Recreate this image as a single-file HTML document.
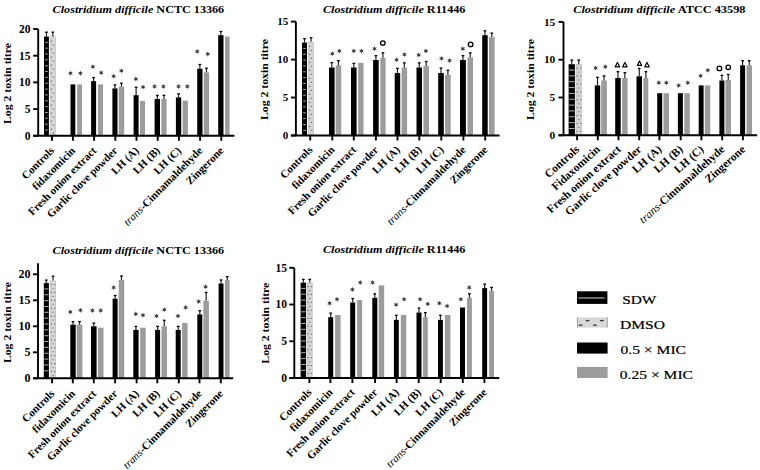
<!DOCTYPE html>
<html><head><meta charset="utf-8"><title>Clostridium difficile toxin titres</title><style>
html,body{margin:0;padding:0;background:#fff;width:760px;height:470px;overflow:hidden}
svg{display:block}
text{font-family:"Liberation Serif", serif;fill:#000}
.title{font-size:11px;font-weight:bold}
.ylab{font-size:10.5px;font-weight:bold;text-anchor:middle}
.tick{font-size:11px;font-weight:bold;text-anchor:end}
.xl{font-weight:bold;text-anchor:end}
.tr{font-style:italic;font-weight:normal}
.ast{font-size:9px;text-anchor:middle;font-family:"Liberation Sans",sans-serif;fill:#222}
.oo{font-size:8px;text-anchor:middle;font-weight:bold;font-family:"Liberation Sans",sans-serif}
.dd{font-size:7px;text-anchor:middle;font-weight:bold;font-family:"Liberation Sans",sans-serif}
.leg{font-size:13.5px;stroke:#000;stroke-width:0.2px}
</style></head>
<body><svg width="760" height="470" viewBox="0 0 760 470">
<text x="52.6" y="13.3" class="title" textLength="171.6" lengthAdjust="spacingAndGlyphs"><tspan font-style="italic">Clostridium difficile</tspan> NCTC 13366</text>
<text transform="translate(11,83.5) rotate(-90)" class="ylab" textLength="81" lengthAdjust="spacingAndGlyphs">Log 2 toxin titre</text>
<rect x="44" y="36.5" width="4.9" height="99.3" fill="#000"/><rect x="45.2" y="41.8" width="2.5" height="1" fill="#b0b0b0"/><rect x="45.2" y="47.65" width="2.5" height="1" fill="#b0b0b0"/><rect x="45.2" y="53.5" width="2.5" height="1" fill="#b0b0b0"/><rect x="45.2" y="59.35" width="2.5" height="1" fill="#b0b0b0"/><rect x="45.2" y="65.2" width="2.5" height="1" fill="#b0b0b0"/><rect x="45.2" y="71.05" width="2.5" height="1" fill="#b0b0b0"/><rect x="45.2" y="76.9" width="2.5" height="1" fill="#b0b0b0"/><rect x="45.2" y="82.75" width="2.5" height="1" fill="#b0b0b0"/><rect x="45.2" y="88.6" width="2.5" height="1" fill="#b0b0b0"/><rect x="45.2" y="94.45" width="2.5" height="1" fill="#b0b0b0"/><rect x="45.2" y="100.3" width="2.5" height="1" fill="#b0b0b0"/><rect x="45.2" y="106.15" width="2.5" height="1" fill="#b0b0b0"/><rect x="45.2" y="112" width="2.5" height="1" fill="#b0b0b0"/><rect x="45.2" y="117.85" width="2.5" height="1" fill="#b0b0b0"/><rect x="45.2" y="123.7" width="2.5" height="1" fill="#b0b0b0"/><rect x="45.2" y="129.55" width="2.5" height="1" fill="#b0b0b0"/>
<rect x="50.2" y="36.8" width="5.2" height="99" fill="#d6d6d6" stroke="#b4b4b4" stroke-width="0.6"/><rect x="50.81" y="40.5" width="1.3" height="1.1" fill="#666"/><rect x="52.66" y="44.5" width="1.3" height="1.1" fill="#666"/><rect x="50.81" y="48.5" width="1.3" height="1.1" fill="#666"/><rect x="52.66" y="52.5" width="1.3" height="1.1" fill="#666"/><rect x="50.81" y="56.5" width="1.3" height="1.1" fill="#666"/><rect x="52.66" y="60.5" width="1.3" height="1.1" fill="#666"/><rect x="50.81" y="64.5" width="1.3" height="1.1" fill="#666"/><rect x="52.66" y="68.5" width="1.3" height="1.1" fill="#666"/><rect x="50.81" y="72.5" width="1.3" height="1.1" fill="#666"/><rect x="52.66" y="76.5" width="1.3" height="1.1" fill="#666"/><rect x="50.81" y="80.5" width="1.3" height="1.1" fill="#666"/><rect x="52.66" y="84.5" width="1.3" height="1.1" fill="#666"/><rect x="50.81" y="88.5" width="1.3" height="1.1" fill="#666"/><rect x="52.66" y="92.5" width="1.3" height="1.1" fill="#666"/><rect x="50.81" y="96.5" width="1.3" height="1.1" fill="#666"/><rect x="52.66" y="100.5" width="1.3" height="1.1" fill="#666"/><rect x="50.81" y="104.5" width="1.3" height="1.1" fill="#666"/><rect x="52.66" y="108.5" width="1.3" height="1.1" fill="#666"/><rect x="50.81" y="112.5" width="1.3" height="1.1" fill="#666"/><rect x="52.66" y="116.5" width="1.3" height="1.1" fill="#666"/><rect x="50.81" y="120.5" width="1.3" height="1.1" fill="#666"/><rect x="52.66" y="124.5" width="1.3" height="1.1" fill="#666"/><rect x="50.81" y="128.5" width="1.3" height="1.1" fill="#666"/><rect x="52.66" y="132.5" width="1.3" height="1.1" fill="#666"/>
<line x1="46.45" y1="32.1" x2="46.45" y2="36.5" stroke="#222" stroke-width="1.2"/><line x1="45.1" y1="32.2" x2="47.8" y2="32.2" stroke="#000" stroke-width="1.3"/>
<line x1="52.8" y1="32.1" x2="52.8" y2="36.5" stroke="#222" stroke-width="1.2"/><line x1="51.45" y1="32.2" x2="54.15" y2="32.2" stroke="#000" stroke-width="1.3"/>
<rect x="70.5" y="84.4" width="4.8" height="51.4" fill="#000"/>
<rect x="77.2" y="84.4" width="4.8" height="51.4" fill="#9c9c9c"/>


<rect x="91.1" y="81.1" width="5" height="54.7" fill="#000"/>
<rect x="98" y="84.4" width="5" height="51.4" fill="#9c9c9c"/>
<line x1="93.6" y1="77.5" x2="93.6" y2="81.1" stroke="#222" stroke-width="1.2"/><line x1="92.25" y1="77.6" x2="94.95" y2="77.6" stroke="#000" stroke-width="1.3"/>

<rect x="112.4" y="88.4" width="5.1" height="47.4" fill="#000"/>
<rect x="118.7" y="86.6" width="5.5" height="49.2" fill="#9c9c9c"/>
<line x1="114.95" y1="84.8" x2="114.95" y2="88.4" stroke="#222" stroke-width="1.2"/><line x1="113.6" y1="84.9" x2="116.3" y2="84.9" stroke="#000" stroke-width="1.3"/>
<line x1="121.45" y1="83.1" x2="121.45" y2="86.6" stroke="#222" stroke-width="1.2"/><line x1="120.1" y1="83.2" x2="122.8" y2="83.2" stroke="#000" stroke-width="1.3"/>
<rect x="133.6" y="95.2" width="5" height="40.6" fill="#000"/>
<rect x="140" y="101" width="5" height="34.8" fill="#9c9c9c"/>
<line x1="136.1" y1="87.1" x2="136.1" y2="95.2" stroke="#222" stroke-width="1.2"/><line x1="134.75" y1="87.2" x2="137.45" y2="87.2" stroke="#000" stroke-width="1.3"/>

<rect x="154.6" y="99" width="5.4" height="36.8" fill="#000"/>
<rect x="161.3" y="99" width="5.3" height="36.8" fill="#9c9c9c"/>
<line x1="157.3" y1="95.3" x2="157.3" y2="99" stroke="#222" stroke-width="1.2"/><line x1="155.95" y1="95.4" x2="158.65" y2="95.4" stroke="#000" stroke-width="1.3"/>
<line x1="163.95" y1="95.3" x2="163.95" y2="99" stroke="#222" stroke-width="1.2"/><line x1="162.6" y1="95.4" x2="165.3" y2="95.4" stroke="#000" stroke-width="1.3"/>
<rect x="175.9" y="97.4" width="5.3" height="38.4" fill="#000"/>
<rect x="182.6" y="100.6" width="5.3" height="35.2" fill="#9c9c9c"/>
<line x1="178.55" y1="93.7" x2="178.55" y2="97.4" stroke="#222" stroke-width="1.2"/><line x1="177.2" y1="93.8" x2="179.9" y2="93.8" stroke="#000" stroke-width="1.3"/>

<rect x="197.2" y="68.7" width="5.3" height="67.1" fill="#000"/>
<rect x="203.8" y="72.4" width="5.3" height="63.4" fill="#9c9c9c"/>
<line x1="199.85" y1="64.4" x2="199.85" y2="68.7" stroke="#222" stroke-width="1.2"/><line x1="198.5" y1="64.5" x2="201.2" y2="64.5" stroke="#000" stroke-width="1.3"/>
<line x1="206.45" y1="68.1" x2="206.45" y2="72.4" stroke="#222" stroke-width="1.2"/><line x1="205.1" y1="68.2" x2="207.8" y2="68.2" stroke="#000" stroke-width="1.3"/>
<rect x="218.2" y="35.2" width="5.3" height="100.6" fill="#000"/>
<rect x="225.1" y="36.5" width="4.5" height="99.3" fill="#9c9c9c"/>
<line x1="220.85" y1="31.4" x2="220.85" y2="35.2" stroke="#222" stroke-width="1.2"/><line x1="219.5" y1="31.5" x2="222.2" y2="31.5" stroke="#000" stroke-width="1.3"/>

<line x1="38.2" y1="29" x2="38.2" y2="135.8" stroke="#000" stroke-width="1.9"/>
<line x1="33.2" y1="135.8" x2="234.4" y2="135.8" stroke="#000" stroke-width="1.9"/>
<line x1="33.2" y1="135.8" x2="38.2" y2="135.8" stroke="#000" stroke-width="1.9"/>
<text x="30.6" y="139.65" class="tick" style="font-size:11.5px">0</text>
<line x1="33.2" y1="109.1" x2="38.2" y2="109.1" stroke="#000" stroke-width="1.9"/>
<text x="30.6" y="112.95" class="tick" style="font-size:11.5px">5</text>
<line x1="33.2" y1="82.4" x2="38.2" y2="82.4" stroke="#000" stroke-width="1.9"/>
<text x="30.6" y="86.25" class="tick" style="font-size:11.5px">10</text>
<line x1="33.2" y1="55.7" x2="38.2" y2="55.7" stroke="#000" stroke-width="1.9"/>
<text x="30.6" y="59.55" class="tick" style="font-size:11.5px">15</text>
<line x1="33.2" y1="29" x2="38.2" y2="29" stroke="#000" stroke-width="1.9"/>
<text x="30.6" y="32.85" class="tick" style="font-size:11.5px">20</text>
<line x1="51.9" y1="135.8" x2="51.9" y2="140.8" stroke="#000" stroke-width="1.9"/>
<line x1="72.9" y1="135.8" x2="72.9" y2="140.8" stroke="#000" stroke-width="1.9"/>
<line x1="94.1" y1="135.8" x2="94.1" y2="140.8" stroke="#000" stroke-width="1.9"/>
<line x1="115.3" y1="135.8" x2="115.3" y2="140.8" stroke="#000" stroke-width="1.9"/>
<line x1="136.5" y1="135.8" x2="136.5" y2="140.8" stroke="#000" stroke-width="1.9"/>
<line x1="157.7" y1="135.8" x2="157.7" y2="140.8" stroke="#000" stroke-width="1.9"/>
<line x1="178.9" y1="135.8" x2="178.9" y2="140.8" stroke="#000" stroke-width="1.9"/>
<line x1="200.1" y1="135.8" x2="200.1" y2="140.8" stroke="#000" stroke-width="1.9"/>
<line x1="221.3" y1="135.8" x2="221.3" y2="140.8" stroke="#000" stroke-width="1.9"/>
<text transform="translate(54.9,151.3) rotate(-45)" class="xl" style="font-size:11px">Controls</text>
<text transform="translate(75.9,151.3) rotate(-45)" class="xl" style="font-size:11px">fidaxomicin</text>
<text transform="translate(97.1,151.3) rotate(-45)" class="xl" style="font-size:11px">Fresh onion extract</text>
<text transform="translate(118.3,151.3) rotate(-45)" class="xl" style="font-size:11px">Garlic clove powder</text>
<text transform="translate(139.5,151.3) rotate(-45)" class="xl" style="font-size:11px">LH (A)</text>
<text transform="translate(160.7,151.3) rotate(-45)" class="xl" style="font-size:11px">LH (B)</text>
<text transform="translate(181.9,151.3) rotate(-45)" class="xl" style="font-size:11px">LH (C)</text>
<text transform="translate(203.1,151.3) rotate(-45)" class="xl" style="font-size:11px"><tspan class="tr">trans</tspan>-Cinnamaldehyde</text>
<text transform="translate(224.3,151.3) rotate(-45)" class="xl" style="font-size:11px">Zingerone</text>
<polygon points="70.5,70.45 71.08,72.2 72.88,71.83 71.65,73.2 72.88,74.58 71.08,74.2 70.5,75.95 69.92,74.2 68.12,74.58 69.35,73.2 68.12,71.83 69.92,72.2" fill="#383838"/>
<polygon points="80.4,70.45 80.98,72.2 82.78,71.83 81.55,73.2 82.78,74.58 80.98,74.2 80.4,75.95 79.83,74.2 78.02,74.58 79.25,73.2 78.02,71.83 79.83,72.2" fill="#383838"/>
<polygon points="92.9,63.95 93.48,65.7 95.28,65.33 94.05,66.7 95.28,68.08 93.48,67.7 92.9,69.45 92.33,67.7 90.52,68.08 91.75,66.7 90.52,65.33 92.33,65.7" fill="#383838"/>
<polygon points="101.2,69.95 101.78,71.7 103.58,71.33 102.35,72.7 103.58,74.08 101.78,73.7 101.2,75.45 100.62,73.7 98.82,74.08 100.05,72.7 98.82,71.33 100.62,71.7" fill="#383838"/>
<polygon points="113.7,73.55 114.28,75.3 116.08,74.92 114.85,76.3 116.08,77.67 114.28,77.3 113.7,79.05 113.12,77.3 111.32,77.67 112.55,76.3 111.32,74.92 113.12,75.3" fill="#383838"/>
<polygon points="121.4,68.05 121.98,69.8 123.78,69.42 122.55,70.8 123.78,72.17 121.98,71.8 121.4,73.55 120.83,71.8 119.02,72.17 120.25,70.8 119.02,69.42 120.83,69.8" fill="#383838"/>
<polygon points="135.9,76.25 136.47,78 138.28,77.62 137.05,79 138.28,80.38 136.47,80 135.9,81.75 135.33,80 133.52,80.38 134.75,79 133.52,77.62 135.33,78" fill="#383838"/>
<polygon points="143.1,84.35 143.67,86.1 145.48,85.72 144.25,87.1 145.48,88.47 143.67,88.1 143.1,89.85 142.53,88.1 140.72,88.47 141.95,87.1 140.72,85.72 142.53,86.1" fill="#383838"/>
<polygon points="154.6,83.75 155.17,85.5 156.98,85.12 155.75,86.5 156.98,87.88 155.17,87.5 154.6,89.25 154.03,87.5 152.22,87.88 153.45,86.5 152.22,85.12 154.03,85.5" fill="#383838"/>
<polygon points="163.4,83.75 163.97,85.5 165.78,85.12 164.55,86.5 165.78,87.88 163.97,87.5 163.4,89.25 162.83,87.5 161.02,87.88 162.25,86.5 161.02,85.12 162.83,85.5" fill="#383838"/>
<polygon points="178.6,83.75 179.17,85.5 180.98,85.12 179.75,86.5 180.98,87.88 179.17,87.5 178.6,89.25 178.03,87.5 176.22,87.88 177.45,86.5 176.22,85.12 178.03,85.5" fill="#383838"/>
<polygon points="187.3,83.75 187.88,85.5 189.68,85.12 188.45,86.5 189.68,87.88 187.88,87.5 187.3,89.25 186.73,87.5 184.92,87.88 186.15,86.5 184.92,85.12 186.73,85.5" fill="#383838"/>
<polygon points="197.2,48.65 197.77,50.4 199.58,50.02 198.35,51.4 199.58,52.77 197.77,52.4 197.2,54.15 196.62,52.4 194.82,52.77 196.05,51.4 194.82,50.02 196.62,50.4" fill="#383838"/>
<polygon points="207.8,51.25 208.38,53 210.18,52.62 208.95,54 210.18,55.38 208.38,55 207.8,56.75 207.23,55 205.42,55.38 206.65,54 205.42,52.62 207.23,53" fill="#383838"/>
<text x="323" y="13.3" class="title" textLength="142.4" lengthAdjust="spacingAndGlyphs"><tspan font-style="italic">Clostridium difficile</tspan> R11446</text>
<text transform="translate(268.4,79.5) rotate(-90)" class="ylab" textLength="81" lengthAdjust="spacingAndGlyphs">Log 2 toxin titre</text>
<rect x="302" y="42.6" width="5" height="92.9" fill="#000"/><rect x="303.2" y="47.9" width="2.6" height="1" fill="#b0b0b0"/><rect x="303.2" y="53.75" width="2.6" height="1" fill="#b0b0b0"/><rect x="303.2" y="59.6" width="2.6" height="1" fill="#b0b0b0"/><rect x="303.2" y="65.45" width="2.6" height="1" fill="#b0b0b0"/><rect x="303.2" y="71.3" width="2.6" height="1" fill="#b0b0b0"/><rect x="303.2" y="77.15" width="2.6" height="1" fill="#b0b0b0"/><rect x="303.2" y="83" width="2.6" height="1" fill="#b0b0b0"/><rect x="303.2" y="88.85" width="2.6" height="1" fill="#b0b0b0"/><rect x="303.2" y="94.7" width="2.6" height="1" fill="#b0b0b0"/><rect x="303.2" y="100.55" width="2.6" height="1" fill="#b0b0b0"/><rect x="303.2" y="106.4" width="2.6" height="1" fill="#b0b0b0"/><rect x="303.2" y="112.25" width="2.6" height="1" fill="#b0b0b0"/><rect x="303.2" y="118.1" width="2.6" height="1" fill="#b0b0b0"/><rect x="303.2" y="123.95" width="2.6" height="1" fill="#b0b0b0"/><rect x="303.2" y="129.8" width="2.6" height="1" fill="#b0b0b0"/>
<rect x="308.6" y="42.1" width="4.9" height="93.4" fill="#d6d6d6" stroke="#b4b4b4" stroke-width="0.6"/><rect x="309.13" y="45.8" width="1.3" height="1.1" fill="#666"/><rect x="310.89" y="49.8" width="1.3" height="1.1" fill="#666"/><rect x="309.13" y="53.8" width="1.3" height="1.1" fill="#666"/><rect x="310.89" y="57.8" width="1.3" height="1.1" fill="#666"/><rect x="309.13" y="61.8" width="1.3" height="1.1" fill="#666"/><rect x="310.89" y="65.8" width="1.3" height="1.1" fill="#666"/><rect x="309.13" y="69.8" width="1.3" height="1.1" fill="#666"/><rect x="310.89" y="73.8" width="1.3" height="1.1" fill="#666"/><rect x="309.13" y="77.8" width="1.3" height="1.1" fill="#666"/><rect x="310.89" y="81.8" width="1.3" height="1.1" fill="#666"/><rect x="309.13" y="85.8" width="1.3" height="1.1" fill="#666"/><rect x="310.89" y="89.8" width="1.3" height="1.1" fill="#666"/><rect x="309.13" y="93.8" width="1.3" height="1.1" fill="#666"/><rect x="310.89" y="97.8" width="1.3" height="1.1" fill="#666"/><rect x="309.13" y="101.8" width="1.3" height="1.1" fill="#666"/><rect x="310.89" y="105.8" width="1.3" height="1.1" fill="#666"/><rect x="309.13" y="109.8" width="1.3" height="1.1" fill="#666"/><rect x="310.89" y="113.8" width="1.3" height="1.1" fill="#666"/><rect x="309.13" y="117.8" width="1.3" height="1.1" fill="#666"/><rect x="310.89" y="121.8" width="1.3" height="1.1" fill="#666"/><rect x="309.13" y="125.8" width="1.3" height="1.1" fill="#666"/><rect x="310.89" y="129.8" width="1.3" height="1.1" fill="#666"/>
<line x1="304.5" y1="38.5" x2="304.5" y2="42.6" stroke="#222" stroke-width="1.2"/><line x1="303.15" y1="38.6" x2="305.85" y2="38.6" stroke="#000" stroke-width="1.3"/>
<line x1="311.05" y1="37.7" x2="311.05" y2="41.8" stroke="#222" stroke-width="1.2"/><line x1="309.7" y1="37.8" x2="312.4" y2="37.8" stroke="#000" stroke-width="1.3"/>
<rect x="329" y="67.5" width="5.6" height="68" fill="#000"/>
<rect x="335.7" y="65.3" width="5.5" height="70.2" fill="#9c9c9c"/>
<line x1="331.8" y1="62.5" x2="331.8" y2="67.5" stroke="#222" stroke-width="1.2"/><line x1="330.45" y1="62.6" x2="333.15" y2="62.6" stroke="#000" stroke-width="1.3"/>
<line x1="338.45" y1="60.6" x2="338.45" y2="65.3" stroke="#222" stroke-width="1.2"/><line x1="337.1" y1="60.7" x2="339.8" y2="60.7" stroke="#000" stroke-width="1.3"/>
<rect x="351" y="67.5" width="5.6" height="68" fill="#000"/>
<rect x="358.2" y="62.8" width="5.3" height="72.7" fill="#9c9c9c"/>
<line x1="353.8" y1="63.3" x2="353.8" y2="67.5" stroke="#222" stroke-width="1.2"/><line x1="352.45" y1="63.4" x2="355.15" y2="63.4" stroke="#000" stroke-width="1.3"/>

<rect x="373.1" y="60" width="5.6" height="75.5" fill="#000"/>
<rect x="380.3" y="57.8" width="5.3" height="77.7" fill="#9c9c9c"/>
<line x1="375.9" y1="55.6" x2="375.9" y2="60" stroke="#222" stroke-width="1.2"/><line x1="374.55" y1="55.7" x2="377.25" y2="55.7" stroke="#000" stroke-width="1.3"/>
<line x1="382.95" y1="52.8" x2="382.95" y2="57.8" stroke="#222" stroke-width="1.2"/><line x1="381.6" y1="52.9" x2="384.3" y2="52.9" stroke="#000" stroke-width="1.3"/>
<rect x="394.7" y="73" width="5.5" height="62.5" fill="#000"/>
<rect x="401.6" y="67.5" width="5.5" height="68" fill="#9c9c9c"/>
<line x1="397.45" y1="68.3" x2="397.45" y2="73" stroke="#222" stroke-width="1.2"/><line x1="396.1" y1="68.4" x2="398.8" y2="68.4" stroke="#000" stroke-width="1.3"/>
<line x1="404.35" y1="62.8" x2="404.35" y2="67.5" stroke="#222" stroke-width="1.2"/><line x1="403" y1="62.9" x2="405.7" y2="62.9" stroke="#000" stroke-width="1.3"/>
<rect x="416.5" y="67.5" width="5.5" height="68" fill="#000"/>
<rect x="423.4" y="66.1" width="5.6" height="69.4" fill="#9c9c9c"/>
<line x1="419.25" y1="62.8" x2="419.25" y2="67.5" stroke="#222" stroke-width="1.2"/><line x1="417.9" y1="62.9" x2="420.6" y2="62.9" stroke="#000" stroke-width="1.3"/>
<line x1="426.2" y1="61.4" x2="426.2" y2="66.1" stroke="#222" stroke-width="1.2"/><line x1="424.85" y1="61.5" x2="427.55" y2="61.5" stroke="#000" stroke-width="1.3"/>
<rect x="438.2" y="73" width="5.6" height="62.5" fill="#000"/>
<rect x="445.1" y="75" width="5.6" height="60.5" fill="#9c9c9c"/>
<line x1="441" y1="68" x2="441" y2="73" stroke="#222" stroke-width="1.2"/><line x1="439.65" y1="68.1" x2="442.35" y2="68.1" stroke="#000" stroke-width="1.3"/>
<line x1="447.9" y1="70.2" x2="447.9" y2="75" stroke="#222" stroke-width="1.2"/><line x1="446.55" y1="70.3" x2="449.25" y2="70.3" stroke="#000" stroke-width="1.3"/>
<rect x="460" y="60" width="5.9" height="75.5" fill="#000"/>
<rect x="467.5" y="57.3" width="5.5" height="78.2" fill="#9c9c9c"/>
<line x1="462.95" y1="55.6" x2="462.95" y2="60" stroke="#222" stroke-width="1.2"/><line x1="461.6" y1="55.7" x2="464.3" y2="55.7" stroke="#000" stroke-width="1.3"/>
<line x1="470.25" y1="52.8" x2="470.25" y2="57.3" stroke="#222" stroke-width="1.2"/><line x1="468.9" y1="52.9" x2="471.6" y2="52.9" stroke="#000" stroke-width="1.3"/>
<rect x="482.2" y="35.2" width="5.5" height="100.3" fill="#000"/>
<rect x="489" y="37.1" width="5.6" height="98.4" fill="#9c9c9c"/>
<line x1="484.95" y1="30.7" x2="484.95" y2="35.2" stroke="#222" stroke-width="1.2"/><line x1="483.6" y1="30.8" x2="486.3" y2="30.8" stroke="#000" stroke-width="1.3"/>
<line x1="491.8" y1="33" x2="491.8" y2="37.1" stroke="#222" stroke-width="1.2"/><line x1="490.45" y1="33.1" x2="493.15" y2="33.1" stroke="#000" stroke-width="1.3"/>
<line x1="295.9" y1="21.6" x2="295.9" y2="135.5" stroke="#000" stroke-width="1.9"/>
<line x1="290.9" y1="135.5" x2="499.6" y2="135.5" stroke="#000" stroke-width="1.9"/>
<line x1="290.9" y1="135.5" x2="295.9" y2="135.5" stroke="#000" stroke-width="1.9"/>
<text x="288.3" y="139.19" class="tick" style="font-size:11px">0</text>
<line x1="290.9" y1="97.53" x2="295.9" y2="97.53" stroke="#000" stroke-width="1.9"/>
<text x="288.3" y="101.22" class="tick" style="font-size:11px">5</text>
<line x1="290.9" y1="59.57" x2="295.9" y2="59.57" stroke="#000" stroke-width="1.9"/>
<text x="288.3" y="63.25" class="tick" style="font-size:11px">10</text>
<line x1="290.9" y1="21.6" x2="295.9" y2="21.6" stroke="#000" stroke-width="1.9"/>
<text x="288.3" y="25.28" class="tick" style="font-size:11px">15</text>
<line x1="310.2" y1="135.5" x2="310.2" y2="140.5" stroke="#000" stroke-width="1.9"/>
<line x1="332.3" y1="135.5" x2="332.3" y2="140.5" stroke="#000" stroke-width="1.9"/>
<line x1="353.8" y1="135.5" x2="353.8" y2="140.5" stroke="#000" stroke-width="1.9"/>
<line x1="375.9" y1="135.5" x2="375.9" y2="140.5" stroke="#000" stroke-width="1.9"/>
<line x1="397.5" y1="135.5" x2="397.5" y2="140.5" stroke="#000" stroke-width="1.9"/>
<line x1="419.3" y1="135.5" x2="419.3" y2="140.5" stroke="#000" stroke-width="1.9"/>
<line x1="441.3" y1="135.5" x2="441.3" y2="140.5" stroke="#000" stroke-width="1.9"/>
<line x1="463.4" y1="135.5" x2="463.4" y2="140.5" stroke="#000" stroke-width="1.9"/>
<line x1="485.2" y1="135.5" x2="485.2" y2="140.5" stroke="#000" stroke-width="1.9"/>
<text transform="translate(313.2,150.5) rotate(-45)" class="xl" style="font-size:11px">Controls</text>
<text transform="translate(335.3,150.5) rotate(-45)" class="xl" style="font-size:11px">fidaxomicin</text>
<text transform="translate(356.8,150.5) rotate(-45)" class="xl" style="font-size:11px">Fresh onion extract</text>
<text transform="translate(378.9,150.5) rotate(-45)" class="xl" style="font-size:11px">Garlic clove powder</text>
<text transform="translate(400.5,150.5) rotate(-45)" class="xl" style="font-size:11px">LH (A)</text>
<text transform="translate(422.3,150.5) rotate(-45)" class="xl" style="font-size:11px">LH (B)</text>
<text transform="translate(444.3,150.5) rotate(-45)" class="xl" style="font-size:11px">LH (C)</text>
<text transform="translate(466.4,150.5) rotate(-45)" class="xl" style="font-size:11px"><tspan class="tr">trans</tspan>-Cinnamaldehyde</text>
<text transform="translate(488.2,150.5) rotate(-45)" class="xl" style="font-size:11px">Zingerone</text>
<polygon points="332.3,50.95 332.88,52.7 334.68,52.33 333.45,53.7 334.68,55.08 332.88,54.7 332.3,56.45 331.73,54.7 329.92,55.08 331.15,53.7 329.92,52.33 331.73,52.7" fill="#383838"/>
<polygon points="339.3,48.15 339.88,49.9 341.68,49.52 340.45,50.9 341.68,52.27 339.88,51.9 339.3,53.65 338.73,51.9 336.92,52.27 338.15,50.9 336.92,49.52 338.73,49.9" fill="#383838"/>
<polygon points="353.8,48.15 354.38,49.9 356.18,49.52 354.95,50.9 356.18,52.27 354.38,51.9 353.8,53.65 353.23,51.9 351.42,52.27 352.65,50.9 351.42,49.52 353.23,49.9" fill="#383838"/>
<polygon points="361.5,48.15 362.07,49.9 363.88,49.52 362.65,50.9 363.88,52.27 362.07,51.9 361.5,53.65 360.93,51.9 359.12,52.27 360.35,50.9 359.12,49.52 360.93,49.9" fill="#383838"/>
<polygon points="374.5,45.95 375.07,47.7 376.88,47.33 375.65,48.7 376.88,50.08 375.07,49.7 374.5,51.45 373.93,49.7 372.12,50.08 373.35,48.7 372.12,47.33 373.93,47.7" fill="#383838"/>
<ellipse cx="382.8" cy="43" rx="2.3" ry="2.2" stroke="#000" stroke-width="1.3" fill="none"/>
<polygon points="396.6,57.05 397.18,58.8 398.98,58.42 397.75,59.8 398.98,61.17 397.18,60.8 396.6,62.55 396.03,60.8 394.22,61.17 395.45,59.8 394.22,58.42 396.03,58.8" fill="#383838"/>
<polygon points="404.4,51.75 404.97,53.5 406.78,53.12 405.55,54.5 406.78,55.88 404.97,55.5 404.4,57.25 403.82,55.5 402.02,55.88 403.25,54.5 402.02,53.12 403.82,53.5" fill="#383838"/>
<polygon points="418.7,52.25 419.27,54 421.08,53.62 419.85,55 421.08,56.38 419.27,56 418.7,57.75 418.12,56 416.32,56.38 417.55,55 416.32,53.62 418.12,54" fill="#383838"/>
<polygon points="425.9,48.15 426.47,49.9 428.28,49.52 427.05,50.9 428.28,52.27 426.47,51.9 425.9,53.65 425.32,51.9 423.52,52.27 424.75,50.9 423.52,49.52 425.32,49.9" fill="#383838"/>
<polygon points="441.5,55.65 442.07,57.4 443.88,57.02 442.65,58.4 443.88,59.77 442.07,59.4 441.5,61.15 440.93,59.4 439.12,59.77 440.35,58.4 439.12,57.02 440.93,57.4" fill="#383838"/>
<polygon points="449.6,57.85 450.18,59.6 451.98,59.23 450.75,60.6 451.98,61.98 450.18,61.6 449.6,63.35 449.03,61.6 447.22,61.98 448.45,60.6 447.22,59.23 449.03,59.6" fill="#383838"/>
<polygon points="462.8,45.95 463.38,47.7 465.18,47.33 463.95,48.7 465.18,50.08 463.38,49.7 462.8,51.45 462.23,49.7 460.42,50.08 461.65,48.7 460.42,47.33 462.23,47.7" fill="#383838"/>
<ellipse cx="470.6" cy="44.4" rx="2.3" ry="2.2" stroke="#000" stroke-width="1.3" fill="none"/>
<text x="573.2" y="13.3" class="title" textLength="172.3" lengthAdjust="spacingAndGlyphs"><tspan font-style="italic">Clostridium difficile</tspan> ATCC 43598</text>
<text transform="translate(534.4,79.5) rotate(-90)" class="ylab" textLength="81" lengthAdjust="spacingAndGlyphs">Log 2 toxin titre</text>
<rect x="568.6" y="64.2" width="6.3" height="71.1" fill="#000"/><rect x="569.1" y="69.5" width="5.3" height="1" fill="#b0b0b0"/><rect x="569.1" y="75.35" width="5.3" height="1" fill="#b0b0b0"/><rect x="569.1" y="81.2" width="5.3" height="1" fill="#b0b0b0"/><rect x="569.1" y="87.05" width="5.3" height="1" fill="#b0b0b0"/><rect x="569.1" y="92.9" width="5.3" height="1" fill="#b0b0b0"/><rect x="569.1" y="98.75" width="5.3" height="1" fill="#b0b0b0"/><rect x="569.1" y="104.6" width="5.3" height="1" fill="#b0b0b0"/><rect x="569.1" y="110.45" width="5.3" height="1" fill="#b0b0b0"/><rect x="569.1" y="116.3" width="5.3" height="1" fill="#b0b0b0"/><rect x="569.1" y="122.15" width="5.3" height="1" fill="#b0b0b0"/><rect x="569.1" y="128" width="5.3" height="1" fill="#b0b0b0"/>
<rect x="576" y="64.5" width="5.5" height="70.8" fill="#d6d6d6" stroke="#b4b4b4" stroke-width="0.6"/><rect x="576.51" y="67.65" width="1.3" height="1.1" fill="#777"/><rect x="579.81" y="67.65" width="1.3" height="1.1" fill="#777"/><rect x="578.1" y="71.6" width="1.3" height="1.1" fill="#777"/><rect x="576.51" y="75.55" width="1.3" height="1.1" fill="#777"/><rect x="579.81" y="75.55" width="1.3" height="1.1" fill="#777"/><rect x="578.1" y="79.5" width="1.3" height="1.1" fill="#777"/><rect x="576.51" y="83.45" width="1.3" height="1.1" fill="#777"/><rect x="579.81" y="83.45" width="1.3" height="1.1" fill="#777"/><rect x="578.1" y="87.4" width="1.3" height="1.1" fill="#777"/><rect x="576.51" y="91.35" width="1.3" height="1.1" fill="#777"/><rect x="579.81" y="91.35" width="1.3" height="1.1" fill="#777"/><rect x="578.1" y="95.3" width="1.3" height="1.1" fill="#777"/><rect x="576.51" y="99.25" width="1.3" height="1.1" fill="#777"/><rect x="579.81" y="99.25" width="1.3" height="1.1" fill="#777"/><rect x="578.1" y="103.2" width="1.3" height="1.1" fill="#777"/><rect x="576.51" y="107.15" width="1.3" height="1.1" fill="#777"/><rect x="579.81" y="107.15" width="1.3" height="1.1" fill="#777"/><rect x="578.1" y="111.1" width="1.3" height="1.1" fill="#777"/><rect x="576.51" y="115.05" width="1.3" height="1.1" fill="#777"/><rect x="579.81" y="115.05" width="1.3" height="1.1" fill="#777"/><rect x="578.1" y="119" width="1.3" height="1.1" fill="#777"/><rect x="576.51" y="122.95" width="1.3" height="1.1" fill="#777"/><rect x="579.81" y="122.95" width="1.3" height="1.1" fill="#777"/><rect x="578.1" y="126.9" width="1.3" height="1.1" fill="#777"/><rect x="576.51" y="130.85" width="1.3" height="1.1" fill="#777"/><rect x="579.81" y="130.85" width="1.3" height="1.1" fill="#777"/>
<line x1="571.75" y1="60" x2="571.75" y2="64.2" stroke="#222" stroke-width="1.2"/><line x1="570.4" y1="60.1" x2="573.1" y2="60.1" stroke="#000" stroke-width="1.3"/>
<line x1="578.75" y1="60" x2="578.75" y2="64.2" stroke="#222" stroke-width="1.2"/><line x1="577.4" y1="60.1" x2="580.1" y2="60.1" stroke="#000" stroke-width="1.3"/>
<rect x="594.8" y="85.4" width="5.4" height="49.9" fill="#000"/>
<rect x="601.2" y="80.5" width="5.7" height="54.8" fill="#9c9c9c"/>
<line x1="597.5" y1="77.2" x2="597.5" y2="85.4" stroke="#222" stroke-width="1.2"/><line x1="596.15" y1="77.3" x2="598.85" y2="77.3" stroke="#000" stroke-width="1.3"/>
<line x1="604.05" y1="75.8" x2="604.05" y2="80.5" stroke="#222" stroke-width="1.2"/><line x1="602.7" y1="75.9" x2="605.4" y2="75.9" stroke="#000" stroke-width="1.3"/>
<rect x="615.2" y="78" width="5.5" height="57.3" fill="#000"/>
<rect x="622.1" y="78" width="5.5" height="57.3" fill="#9c9c9c"/>
<line x1="617.95" y1="71.6" x2="617.95" y2="78" stroke="#222" stroke-width="1.2"/><line x1="616.6" y1="71.7" x2="619.3" y2="71.7" stroke="#000" stroke-width="1.3"/>
<line x1="624.85" y1="72.5" x2="624.85" y2="78" stroke="#222" stroke-width="1.2"/><line x1="623.5" y1="72.6" x2="626.2" y2="72.6" stroke="#000" stroke-width="1.3"/>
<rect x="636.5" y="76.3" width="5.5" height="59" fill="#000"/>
<rect x="643.4" y="78" width="4.9" height="57.3" fill="#9c9c9c"/>
<line x1="639.25" y1="68.3" x2="639.25" y2="76.3" stroke="#222" stroke-width="1.2"/><line x1="637.9" y1="68.4" x2="640.6" y2="68.4" stroke="#000" stroke-width="1.3"/>
<line x1="645.85" y1="71.6" x2="645.85" y2="78" stroke="#222" stroke-width="1.2"/><line x1="644.5" y1="71.7" x2="647.2" y2="71.7" stroke="#000" stroke-width="1.3"/>
<rect x="657.2" y="93.2" width="5" height="42.1" fill="#000"/>
<rect x="663.5" y="93.2" width="5.5" height="42.1" fill="#9c9c9c"/>


<rect x="677.9" y="93.2" width="5" height="42.1" fill="#000"/>
<rect x="684.3" y="93.2" width="5.5" height="42.1" fill="#9c9c9c"/>


<rect x="698.7" y="85.4" width="4.9" height="49.9" fill="#000"/>
<rect x="704.8" y="85.4" width="5.5" height="49.9" fill="#9c9c9c"/>


<rect x="719.4" y="80.5" width="5" height="54.8" fill="#000"/>
<rect x="725.5" y="80" width="5.5" height="55.3" fill="#9c9c9c"/>
<line x1="721.9" y1="75.2" x2="721.9" y2="80.5" stroke="#222" stroke-width="1.2"/><line x1="720.55" y1="75.3" x2="723.25" y2="75.3" stroke="#000" stroke-width="1.3"/>
<line x1="728.25" y1="74.4" x2="728.25" y2="80" stroke="#222" stroke-width="1.2"/><line x1="726.9" y1="74.5" x2="729.6" y2="74.5" stroke="#000" stroke-width="1.3"/>
<rect x="740.1" y="65.3" width="5" height="70" fill="#000"/>
<rect x="746.5" y="65.3" width="5.5" height="70" fill="#9c9c9c"/>
<line x1="742.6" y1="60.6" x2="742.6" y2="65.3" stroke="#222" stroke-width="1.2"/><line x1="741.25" y1="60.7" x2="743.95" y2="60.7" stroke="#000" stroke-width="1.3"/>
<line x1="749.25" y1="60.6" x2="749.25" y2="65.3" stroke="#222" stroke-width="1.2"/><line x1="747.9" y1="60.7" x2="750.6" y2="60.7" stroke="#000" stroke-width="1.3"/>
<line x1="563.5" y1="21.9" x2="563.5" y2="135.3" stroke="#000" stroke-width="1.9"/>
<line x1="558.5" y1="135.3" x2="757.2" y2="135.3" stroke="#000" stroke-width="1.9"/>
<line x1="558.5" y1="135.3" x2="563.5" y2="135.3" stroke="#000" stroke-width="1.9"/>
<text x="555.2" y="139.09" class="tick" style="font-size:11.3px">0</text>
<line x1="558.5" y1="97.5" x2="563.5" y2="97.5" stroke="#000" stroke-width="1.9"/>
<text x="555.2" y="101.29" class="tick" style="font-size:11.3px">5</text>
<line x1="558.5" y1="59.7" x2="563.5" y2="59.7" stroke="#000" stroke-width="1.9"/>
<text x="555.2" y="63.49" class="tick" style="font-size:11.3px">10</text>
<line x1="558.5" y1="21.9" x2="563.5" y2="21.9" stroke="#000" stroke-width="1.9"/>
<text x="555.2" y="25.69" class="tick" style="font-size:11.3px">15</text>
<line x1="577.1" y1="135.3" x2="577.1" y2="140.3" stroke="#000" stroke-width="1.9"/>
<line x1="597.8" y1="135.3" x2="597.8" y2="140.3" stroke="#000" stroke-width="1.9"/>
<line x1="618.5" y1="135.3" x2="618.5" y2="140.3" stroke="#000" stroke-width="1.9"/>
<line x1="639.2" y1="135.3" x2="639.2" y2="140.3" stroke="#000" stroke-width="1.9"/>
<line x1="659.4" y1="135.3" x2="659.4" y2="140.3" stroke="#000" stroke-width="1.9"/>
<line x1="680.7" y1="135.3" x2="680.7" y2="140.3" stroke="#000" stroke-width="1.9"/>
<line x1="701.4" y1="135.3" x2="701.4" y2="140.3" stroke="#000" stroke-width="1.9"/>
<line x1="722.2" y1="135.3" x2="722.2" y2="140.3" stroke="#000" stroke-width="1.9"/>
<line x1="742.9" y1="135.3" x2="742.9" y2="140.3" stroke="#000" stroke-width="1.9"/>
<text transform="translate(580.1,150.3) rotate(-42)" class="xl" style="font-size:11.4px">Controls</text>
<text transform="translate(600.8,150.3) rotate(-42)" class="xl" style="font-size:11.4px">Fidaxomicin</text>
<text transform="translate(621.5,150.3) rotate(-42)" class="xl" style="font-size:11.4px">Fresh onion extract</text>
<text transform="translate(642.2,150.3) rotate(-42)" class="xl" style="font-size:11.4px">Garlic clove powder</text>
<text transform="translate(662.4,150.3) rotate(-42)" class="xl" style="font-size:11.4px">LH (A)</text>
<text transform="translate(683.7,150.3) rotate(-42)" class="xl" style="font-size:11.4px">LH (B)</text>
<text transform="translate(704.4,150.3) rotate(-42)" class="xl" style="font-size:11.4px">LH (C)</text>
<text transform="translate(725.2,150.3) rotate(-42)" class="xl" style="font-size:11.4px"><tspan class="tr">trans</tspan>-Cinnamaldehyde</text>
<text transform="translate(745.9,150.3) rotate(-42)" class="xl" style="font-size:11.4px">Zingerone</text>
<polygon points="595.6,65.25 596.18,67 597.98,66.62 596.75,68 597.98,69.38 596.18,69 595.6,70.75 595.02,69 593.22,69.38 594.45,68 593.22,66.62 595.02,67" fill="#383838"/>
<polygon points="605.3,63.95 605.88,65.7 607.68,65.33 606.45,66.7 607.68,68.08 605.88,67.7 605.3,69.45 604.72,67.7 602.92,68.08 604.15,66.7 602.92,65.33 604.72,65.7" fill="#383838"/>
<path d="M617.4 62.4L619.6 66.8L615.2 66.8Z" stroke="#000" stroke-width="1.2" fill="none" stroke-linejoin="round"/>
<path d="M624.9 62.4L627.1 66.8L622.7 66.8Z" stroke="#000" stroke-width="1.2" fill="none" stroke-linejoin="round"/>
<path d="M639.5 61L641.7 65.4L637.3 65.4Z" stroke="#000" stroke-width="1.2" fill="none" stroke-linejoin="round"/>
<path d="M647 62.4L649.2 66.8L644.8 66.8Z" stroke="#000" stroke-width="1.2" fill="none" stroke-linejoin="round"/>
<polygon points="658.8,79.95 659.38,81.7 661.18,81.33 659.95,82.7 661.18,84.08 659.38,83.7 658.8,85.45 658.22,83.7 656.42,84.08 657.65,82.7 656.42,81.33 658.22,81.7" fill="#383838"/>
<polygon points="666.3,79.95 666.88,81.7 668.68,81.33 667.45,82.7 668.68,84.08 666.88,83.7 666.3,85.45 665.72,83.7 663.92,84.08 665.15,82.7 663.92,81.33 665.72,81.7" fill="#383838"/>
<polygon points="678.7,82.65 679.28,84.4 681.08,84.03 679.85,85.4 681.08,86.78 679.28,86.4 678.7,88.15 678.12,86.4 676.32,86.78 677.55,85.4 676.32,84.03 678.12,84.4" fill="#383838"/>
<polygon points="687.8,79.95 688.38,81.7 690.18,81.33 688.95,82.7 690.18,84.08 688.38,83.7 687.8,85.45 687.22,83.7 685.42,84.08 686.65,82.7 685.42,81.33 687.22,81.7" fill="#383838"/>
<polygon points="700.6,73.05 701.18,74.8 702.98,74.42 701.75,75.8 702.98,77.17 701.18,76.8 700.6,78.55 700.02,76.8 698.22,77.17 699.45,75.8 698.22,74.42 700.02,74.8" fill="#383838"/>
<polygon points="707.8,67.45 708.38,69.2 710.18,68.83 708.95,70.2 710.18,71.58 708.38,71.2 707.8,72.95 707.22,71.2 705.42,71.58 706.65,70.2 705.42,68.83 707.22,69.2" fill="#383838"/>
<ellipse cx="719.4" cy="68.4" rx="2.3" ry="2.2" stroke="#000" stroke-width="1.3" fill="none"/>
<ellipse cx="728.2" cy="67.3" rx="2.3" ry="2.2" stroke="#000" stroke-width="1.3" fill="none"/>
<text x="52.6" y="254.3" class="title" textLength="171.6" lengthAdjust="spacingAndGlyphs"><tspan font-style="italic">Clostridium difficile</tspan> NCTC 13366</text>
<text transform="translate(10.8,322.6) rotate(-90)" class="ylab" textLength="81" lengthAdjust="spacingAndGlyphs">Log 2 toxin titre</text>
<rect x="43.8" y="283.1" width="5.1" height="95.2" fill="#000"/><rect x="44.3" y="288.4" width="4.1" height="1" fill="#b0b0b0"/><rect x="44.3" y="294.25" width="4.1" height="1" fill="#b0b0b0"/><rect x="44.3" y="300.1" width="4.1" height="1" fill="#b0b0b0"/><rect x="44.3" y="305.95" width="4.1" height="1" fill="#b0b0b0"/><rect x="44.3" y="311.8" width="4.1" height="1" fill="#b0b0b0"/><rect x="44.3" y="317.65" width="4.1" height="1" fill="#b0b0b0"/><rect x="44.3" y="323.5" width="4.1" height="1" fill="#b0b0b0"/><rect x="44.3" y="329.35" width="4.1" height="1" fill="#b0b0b0"/><rect x="44.3" y="335.2" width="4.1" height="1" fill="#b0b0b0"/><rect x="44.3" y="341.05" width="4.1" height="1" fill="#b0b0b0"/><rect x="44.3" y="346.9" width="4.1" height="1" fill="#b0b0b0"/><rect x="44.3" y="352.75" width="4.1" height="1" fill="#b0b0b0"/><rect x="44.3" y="358.6" width="4.1" height="1" fill="#b0b0b0"/><rect x="44.3" y="364.45" width="4.1" height="1" fill="#b0b0b0"/><rect x="44.3" y="370.3" width="4.1" height="1" fill="#b0b0b0"/>
<rect x="50.5" y="280.9" width="5.1" height="97.4" fill="#d6d6d6" stroke="#b4b4b4" stroke-width="0.6"/><rect x="50.92" y="284.05" width="1.3" height="1.1" fill="#777"/><rect x="54" y="284.05" width="1.3" height="1.1" fill="#777"/><rect x="52.4" y="288" width="1.3" height="1.1" fill="#777"/><rect x="50.92" y="291.95" width="1.3" height="1.1" fill="#777"/><rect x="54" y="291.95" width="1.3" height="1.1" fill="#777"/><rect x="52.4" y="295.9" width="1.3" height="1.1" fill="#777"/><rect x="50.92" y="299.85" width="1.3" height="1.1" fill="#777"/><rect x="54" y="299.85" width="1.3" height="1.1" fill="#777"/><rect x="52.4" y="303.8" width="1.3" height="1.1" fill="#777"/><rect x="50.92" y="307.75" width="1.3" height="1.1" fill="#777"/><rect x="54" y="307.75" width="1.3" height="1.1" fill="#777"/><rect x="52.4" y="311.7" width="1.3" height="1.1" fill="#777"/><rect x="50.92" y="315.65" width="1.3" height="1.1" fill="#777"/><rect x="54" y="315.65" width="1.3" height="1.1" fill="#777"/><rect x="52.4" y="319.6" width="1.3" height="1.1" fill="#777"/><rect x="50.92" y="323.55" width="1.3" height="1.1" fill="#777"/><rect x="54" y="323.55" width="1.3" height="1.1" fill="#777"/><rect x="52.4" y="327.5" width="1.3" height="1.1" fill="#777"/><rect x="50.92" y="331.45" width="1.3" height="1.1" fill="#777"/><rect x="54" y="331.45" width="1.3" height="1.1" fill="#777"/><rect x="52.4" y="335.4" width="1.3" height="1.1" fill="#777"/><rect x="50.92" y="339.35" width="1.3" height="1.1" fill="#777"/><rect x="54" y="339.35" width="1.3" height="1.1" fill="#777"/><rect x="52.4" y="343.3" width="1.3" height="1.1" fill="#777"/><rect x="50.92" y="347.25" width="1.3" height="1.1" fill="#777"/><rect x="54" y="347.25" width="1.3" height="1.1" fill="#777"/><rect x="52.4" y="351.2" width="1.3" height="1.1" fill="#777"/><rect x="50.92" y="355.15" width="1.3" height="1.1" fill="#777"/><rect x="54" y="355.15" width="1.3" height="1.1" fill="#777"/><rect x="52.4" y="359.1" width="1.3" height="1.1" fill="#777"/><rect x="50.92" y="363.05" width="1.3" height="1.1" fill="#777"/><rect x="54" y="363.05" width="1.3" height="1.1" fill="#777"/><rect x="52.4" y="367" width="1.3" height="1.1" fill="#777"/><rect x="50.92" y="370.95" width="1.3" height="1.1" fill="#777"/><rect x="54" y="370.95" width="1.3" height="1.1" fill="#777"/><rect x="52.4" y="374.9" width="1.3" height="1.1" fill="#777"/>
<line x1="46.35" y1="280" x2="46.35" y2="283.1" stroke="#222" stroke-width="1.2"/><line x1="45" y1="280.1" x2="47.7" y2="280.1" stroke="#000" stroke-width="1.3"/>
<line x1="53.05" y1="276.1" x2="53.05" y2="280.6" stroke="#222" stroke-width="1.2"/><line x1="51.7" y1="276.2" x2="54.4" y2="276.2" stroke="#000" stroke-width="1.3"/>
<rect x="70.3" y="324.7" width="5.4" height="53.6" fill="#000"/>
<rect x="76.7" y="324.7" width="5.7" height="53.6" fill="#9c9c9c"/>
<line x1="73" y1="321.5" x2="73" y2="324.7" stroke="#222" stroke-width="1.2"/><line x1="71.65" y1="321.6" x2="74.35" y2="321.6" stroke="#000" stroke-width="1.3"/>
<line x1="79.55" y1="321.5" x2="79.55" y2="324.7" stroke="#222" stroke-width="1.2"/><line x1="78.2" y1="321.6" x2="80.9" y2="321.6" stroke="#000" stroke-width="1.3"/>
<rect x="91" y="326.3" width="5.6" height="52" fill="#000"/>
<rect x="98" y="327.7" width="5.5" height="50.6" fill="#9c9c9c"/>
<line x1="93.8" y1="323" x2="93.8" y2="326.3" stroke="#222" stroke-width="1.2"/><line x1="92.45" y1="323.1" x2="95.15" y2="323.1" stroke="#000" stroke-width="1.3"/>

<rect x="112.6" y="298.7" width="5" height="79.6" fill="#000"/>
<rect x="118.7" y="279.9" width="5.5" height="98.4" fill="#9c9c9c"/>
<line x1="115.1" y1="295.4" x2="115.1" y2="298.7" stroke="#222" stroke-width="1.2"/><line x1="113.75" y1="295.5" x2="116.45" y2="295.5" stroke="#000" stroke-width="1.3"/>
<line x1="121.45" y1="276" x2="121.45" y2="279.9" stroke="#222" stroke-width="1.2"/><line x1="120.1" y1="276.1" x2="122.8" y2="276.1" stroke="#000" stroke-width="1.3"/>
<rect x="133.3" y="329.9" width="5.3" height="48.4" fill="#000"/>
<rect x="140.2" y="327.7" width="5.5" height="50.6" fill="#9c9c9c"/>
<line x1="135.95" y1="326.3" x2="135.95" y2="329.9" stroke="#222" stroke-width="1.2"/><line x1="134.6" y1="326.4" x2="137.3" y2="326.4" stroke="#000" stroke-width="1.3"/>

<rect x="155.1" y="329.9" width="5" height="48.4" fill="#000"/>
<rect x="161.5" y="326.3" width="5.5" height="52" fill="#9c9c9c"/>
<line x1="157.6" y1="326.3" x2="157.6" y2="329.9" stroke="#222" stroke-width="1.2"/><line x1="156.25" y1="326.4" x2="158.95" y2="326.4" stroke="#000" stroke-width="1.3"/>
<line x1="164.25" y1="320.2" x2="164.25" y2="326.3" stroke="#222" stroke-width="1.2"/><line x1="162.9" y1="320.3" x2="165.6" y2="320.3" stroke="#000" stroke-width="1.3"/>
<rect x="175.7" y="329.9" width="5" height="48.4" fill="#000"/>
<rect x="182.1" y="323" width="5.5" height="55.3" fill="#9c9c9c"/>
<line x1="178.2" y1="326.3" x2="178.2" y2="329.9" stroke="#222" stroke-width="1.2"/><line x1="176.85" y1="326.4" x2="179.55" y2="326.4" stroke="#000" stroke-width="1.3"/>

<rect x="197.3" y="314.4" width="5" height="63.9" fill="#000"/>
<rect x="203.4" y="300.6" width="5.5" height="77.7" fill="#9c9c9c"/>
<line x1="199.8" y1="310.6" x2="199.8" y2="314.4" stroke="#222" stroke-width="1.2"/><line x1="198.45" y1="310.7" x2="201.15" y2="310.7" stroke="#000" stroke-width="1.3"/>
<line x1="206.15" y1="292.3" x2="206.15" y2="300.6" stroke="#222" stroke-width="1.2"/><line x1="204.8" y1="292.4" x2="207.5" y2="292.4" stroke="#000" stroke-width="1.3"/>
<rect x="218.6" y="283.5" width="4.9" height="94.8" fill="#000"/>
<rect x="224.9" y="279.9" width="4.7" height="98.4" fill="#9c9c9c"/>
<line x1="221.05" y1="279.9" x2="221.05" y2="283.5" stroke="#222" stroke-width="1.2"/><line x1="219.7" y1="280" x2="222.4" y2="280" stroke="#000" stroke-width="1.3"/>
<line x1="227.25" y1="276.6" x2="227.25" y2="279.9" stroke="#222" stroke-width="1.2"/><line x1="225.9" y1="276.7" x2="228.6" y2="276.7" stroke="#000" stroke-width="1.3"/>
<line x1="38" y1="263.3" x2="38" y2="378.3" stroke="#000" stroke-width="1.9"/>
<line x1="33" y1="378.3" x2="233.2" y2="378.3" stroke="#000" stroke-width="1.9"/>
<line x1="33" y1="378.3" x2="38" y2="378.3" stroke="#000" stroke-width="1.9"/>
<text x="30.4" y="382.32" class="tick" style="font-size:12px">0</text>
<line x1="33" y1="352.3" x2="38" y2="352.3" stroke="#000" stroke-width="1.9"/>
<text x="30.4" y="356.32" class="tick" style="font-size:12px">5</text>
<line x1="33" y1="326.3" x2="38" y2="326.3" stroke="#000" stroke-width="1.9"/>
<text x="30.4" y="330.32" class="tick" style="font-size:12px">10</text>
<line x1="33" y1="300.3" x2="38" y2="300.3" stroke="#000" stroke-width="1.9"/>
<text x="30.4" y="304.32" class="tick" style="font-size:12px">15</text>
<line x1="33" y1="274.3" x2="38" y2="274.3" stroke="#000" stroke-width="1.9"/>
<text x="30.4" y="278.32" class="tick" style="font-size:12px">20</text>
<line x1="52.1" y1="378.3" x2="52.1" y2="383.3" stroke="#000" stroke-width="1.9"/>
<line x1="72.8" y1="378.3" x2="72.8" y2="383.3" stroke="#000" stroke-width="1.9"/>
<line x1="93.8" y1="378.3" x2="93.8" y2="383.3" stroke="#000" stroke-width="1.9"/>
<line x1="115.1" y1="378.3" x2="115.1" y2="383.3" stroke="#000" stroke-width="1.9"/>
<line x1="136.6" y1="378.3" x2="136.6" y2="383.3" stroke="#000" stroke-width="1.9"/>
<line x1="157.3" y1="378.3" x2="157.3" y2="383.3" stroke="#000" stroke-width="1.9"/>
<line x1="178.8" y1="378.3" x2="178.8" y2="383.3" stroke="#000" stroke-width="1.9"/>
<line x1="199.5" y1="378.3" x2="199.5" y2="383.3" stroke="#000" stroke-width="1.9"/>
<line x1="220.8" y1="378.3" x2="220.8" y2="383.3" stroke="#000" stroke-width="1.9"/>
<text transform="translate(55.1,394.3) rotate(-45)" class="xl" style="font-size:11px">Controls</text>
<text transform="translate(75.8,394.3) rotate(-45)" class="xl" style="font-size:11px">fidaxomicin</text>
<text transform="translate(96.8,394.3) rotate(-45)" class="xl" style="font-size:11px">Fresh onion extract</text>
<text transform="translate(118.1,394.3) rotate(-45)" class="xl" style="font-size:11px">Garlic clove powder</text>
<text transform="translate(139.6,394.3) rotate(-45)" class="xl" style="font-size:11px">LH (A)</text>
<text transform="translate(160.3,394.3) rotate(-45)" class="xl" style="font-size:11px">LH (B)</text>
<text transform="translate(181.8,394.3) rotate(-45)" class="xl" style="font-size:11px">LH (C)</text>
<text transform="translate(202.5,394.3) rotate(-45)" class="xl" style="font-size:11px"><tspan class="tr">trans</tspan>-Cinnamaldehyde</text>
<text transform="translate(223.8,394.3) rotate(-45)" class="xl" style="font-size:11px">Zingerone</text>
<polygon points="70.3,309.15 70.88,310.9 72.68,310.52 71.45,311.9 72.68,313.27 70.88,312.9 70.3,314.65 69.72,312.9 67.92,313.27 69.15,311.9 67.92,310.52 69.72,310.9" fill="#383838"/>
<polygon points="80.5,307.55 81.08,309.3 82.88,308.93 81.65,310.3 82.88,311.68 81.08,311.3 80.5,313.05 79.92,311.3 78.12,311.68 79.35,310.3 78.12,308.93 79.92,309.3" fill="#383838"/>
<polygon points="92.4,307.85 92.98,309.6 94.78,309.23 93.55,310.6 94.78,311.98 92.98,311.6 92.4,313.35 91.83,311.6 90.02,311.98 91.25,310.6 90.02,309.23 91.83,309.6" fill="#383838"/>
<polygon points="100.7,307.85 101.28,309.6 103.08,309.23 101.85,310.6 103.08,311.98 101.28,311.6 100.7,313.35 100.12,311.6 98.32,311.98 99.55,310.6 98.32,309.23 100.12,309.6" fill="#383838"/>
<polygon points="113.7,284.85 114.28,286.6 116.08,286.23 114.85,287.6 116.08,288.98 114.28,288.6 113.7,290.35 113.12,288.6 111.32,288.98 112.55,287.6 111.32,286.23 113.12,286.6" fill="#383838"/>
<polygon points="135.8,311.15 136.38,312.9 138.18,312.52 136.95,313.9 138.18,315.27 136.38,314.9 135.8,316.65 135.23,314.9 133.42,315.27 134.65,313.9 133.42,312.52 135.23,312.9" fill="#383838"/>
<polygon points="143,312.45 143.57,314.2 145.38,313.82 144.15,315.2 145.38,316.57 143.57,316.2 143,317.95 142.43,316.2 140.62,316.57 141.85,315.2 140.62,313.82 142.43,314.2" fill="#383838"/>
<polygon points="156.5,313.35 157.07,315.1 158.88,314.73 157.65,316.1 158.88,317.48 157.07,317.1 156.5,318.85 155.93,317.1 154.12,317.48 155.35,316.1 154.12,314.73 155.93,315.1" fill="#383838"/>
<polygon points="164.3,306.95 164.88,308.7 166.68,308.32 165.45,309.7 166.68,311.07 164.88,310.7 164.3,312.45 163.73,310.7 161.92,311.07 163.15,309.7 161.92,308.32 163.73,308.7" fill="#383838"/>
<polygon points="178,313.35 178.57,315.1 180.38,314.73 179.15,316.1 180.38,317.48 178.57,317.1 178,318.85 177.43,317.1 175.62,317.48 176.85,316.1 175.62,314.73 177.43,315.1" fill="#383838"/>
<polygon points="185.7,304.75 186.27,306.5 188.08,306.12 186.85,307.5 188.08,308.88 186.27,308.5 185.7,310.25 185.12,308.5 183.32,308.88 184.55,307.5 183.32,306.12 185.12,306.5" fill="#383838"/>
<polygon points="198.7,298.65 199.27,300.4 201.08,300.02 199.85,301.4 201.08,302.77 199.27,302.4 198.7,304.15 198.12,302.4 196.32,302.77 197.55,301.4 196.32,300.02 198.12,300.4" fill="#383838"/>
<polygon points="205.6,284.05 206.17,285.8 207.98,285.43 206.75,286.8 207.98,288.18 206.17,287.8 205.6,289.55 205.03,287.8 203.22,288.18 204.45,286.8 203.22,285.43 205.03,285.8" fill="#383838"/>
<text x="323" y="253.3" class="title" textLength="142.4" lengthAdjust="spacingAndGlyphs"><tspan font-style="italic">Clostridium difficile</tspan> R11446</text>
<text transform="translate(269.4,323.2) rotate(-90)" class="ylab" textLength="81" lengthAdjust="spacingAndGlyphs">Log 2 toxin titre</text>
<rect x="300.6" y="282.6" width="5.5" height="95.4" fill="#000"/><rect x="301.1" y="287.9" width="4.5" height="1" fill="#b0b0b0"/><rect x="301.1" y="293.75" width="4.5" height="1" fill="#b0b0b0"/><rect x="301.1" y="299.6" width="4.5" height="1" fill="#b0b0b0"/><rect x="301.1" y="305.45" width="4.5" height="1" fill="#b0b0b0"/><rect x="301.1" y="311.3" width="4.5" height="1" fill="#b0b0b0"/><rect x="301.1" y="317.15" width="4.5" height="1" fill="#b0b0b0"/><rect x="301.1" y="323" width="4.5" height="1" fill="#b0b0b0"/><rect x="301.1" y="328.85" width="4.5" height="1" fill="#b0b0b0"/><rect x="301.1" y="334.7" width="4.5" height="1" fill="#b0b0b0"/><rect x="301.1" y="340.55" width="4.5" height="1" fill="#b0b0b0"/><rect x="301.1" y="346.4" width="4.5" height="1" fill="#b0b0b0"/><rect x="301.1" y="352.25" width="4.5" height="1" fill="#b0b0b0"/><rect x="301.1" y="358.1" width="4.5" height="1" fill="#b0b0b0"/><rect x="301.1" y="363.95" width="4.5" height="1" fill="#b0b0b0"/><rect x="301.1" y="369.8" width="4.5" height="1" fill="#b0b0b0"/>
<rect x="307.3" y="282.9" width="4.9" height="95.1" fill="#d6d6d6" stroke="#b4b4b4" stroke-width="0.6"/><rect x="307.67" y="286.05" width="1.3" height="1.1" fill="#777"/><rect x="310.64" y="286.05" width="1.3" height="1.1" fill="#777"/><rect x="309.1" y="290" width="1.3" height="1.1" fill="#777"/><rect x="307.67" y="293.95" width="1.3" height="1.1" fill="#777"/><rect x="310.64" y="293.95" width="1.3" height="1.1" fill="#777"/><rect x="309.1" y="297.9" width="1.3" height="1.1" fill="#777"/><rect x="307.67" y="301.85" width="1.3" height="1.1" fill="#777"/><rect x="310.64" y="301.85" width="1.3" height="1.1" fill="#777"/><rect x="309.1" y="305.8" width="1.3" height="1.1" fill="#777"/><rect x="307.67" y="309.75" width="1.3" height="1.1" fill="#777"/><rect x="310.64" y="309.75" width="1.3" height="1.1" fill="#777"/><rect x="309.1" y="313.7" width="1.3" height="1.1" fill="#777"/><rect x="307.67" y="317.65" width="1.3" height="1.1" fill="#777"/><rect x="310.64" y="317.65" width="1.3" height="1.1" fill="#777"/><rect x="309.1" y="321.6" width="1.3" height="1.1" fill="#777"/><rect x="307.67" y="325.55" width="1.3" height="1.1" fill="#777"/><rect x="310.64" y="325.55" width="1.3" height="1.1" fill="#777"/><rect x="309.1" y="329.5" width="1.3" height="1.1" fill="#777"/><rect x="307.67" y="333.45" width="1.3" height="1.1" fill="#777"/><rect x="310.64" y="333.45" width="1.3" height="1.1" fill="#777"/><rect x="309.1" y="337.4" width="1.3" height="1.1" fill="#777"/><rect x="307.67" y="341.35" width="1.3" height="1.1" fill="#777"/><rect x="310.64" y="341.35" width="1.3" height="1.1" fill="#777"/><rect x="309.1" y="345.3" width="1.3" height="1.1" fill="#777"/><rect x="307.67" y="349.25" width="1.3" height="1.1" fill="#777"/><rect x="310.64" y="349.25" width="1.3" height="1.1" fill="#777"/><rect x="309.1" y="353.2" width="1.3" height="1.1" fill="#777"/><rect x="307.67" y="357.15" width="1.3" height="1.1" fill="#777"/><rect x="310.64" y="357.15" width="1.3" height="1.1" fill="#777"/><rect x="309.1" y="361.1" width="1.3" height="1.1" fill="#777"/><rect x="307.67" y="365.05" width="1.3" height="1.1" fill="#777"/><rect x="310.64" y="365.05" width="1.3" height="1.1" fill="#777"/><rect x="309.1" y="369" width="1.3" height="1.1" fill="#777"/><rect x="307.67" y="372.95" width="1.3" height="1.1" fill="#777"/><rect x="310.64" y="372.95" width="1.3" height="1.1" fill="#777"/>
<line x1="303.35" y1="279.3" x2="303.35" y2="282.6" stroke="#222" stroke-width="1.2"/><line x1="302" y1="279.4" x2="304.7" y2="279.4" stroke="#000" stroke-width="1.3"/>
<line x1="309.75" y1="279.3" x2="309.75" y2="282.6" stroke="#222" stroke-width="1.2"/><line x1="308.4" y1="279.4" x2="311.1" y2="279.4" stroke="#000" stroke-width="1.3"/>
<rect x="328.2" y="317.2" width="5" height="60.8" fill="#000"/>
<rect x="335.1" y="315" width="5.5" height="63" fill="#9c9c9c"/>
<line x1="330.7" y1="313" x2="330.7" y2="317.2" stroke="#222" stroke-width="1.2"/><line x1="329.35" y1="313.1" x2="332.05" y2="313.1" stroke="#000" stroke-width="1.3"/>

<rect x="350.2" y="302.5" width="5" height="75.5" fill="#000"/>
<rect x="357.1" y="300" width="5" height="78" fill="#9c9c9c"/>
<line x1="352.7" y1="298.4" x2="352.7" y2="302.5" stroke="#222" stroke-width="1.2"/><line x1="351.35" y1="298.5" x2="354.05" y2="298.5" stroke="#000" stroke-width="1.3"/>

<rect x="372.3" y="297.8" width="5" height="80.2" fill="#000"/>
<rect x="378.7" y="285.4" width="5.5" height="92.6" fill="#9c9c9c"/>
<line x1="374.8" y1="293.7" x2="374.8" y2="297.8" stroke="#222" stroke-width="1.2"/><line x1="373.45" y1="293.8" x2="376.15" y2="293.8" stroke="#000" stroke-width="1.3"/>

<rect x="393.9" y="319.9" width="4.9" height="58.1" fill="#000"/>
<rect x="400.8" y="315" width="5.5" height="63" fill="#9c9c9c"/>
<line x1="396.35" y1="315.2" x2="396.35" y2="319.9" stroke="#222" stroke-width="1.2"/><line x1="395" y1="315.3" x2="397.7" y2="315.3" stroke="#000" stroke-width="1.3"/>

<rect x="416.5" y="312.5" width="5" height="65.5" fill="#000"/>
<rect x="422.9" y="317.2" width="4.9" height="60.8" fill="#9c9c9c"/>
<line x1="419" y1="308" x2="419" y2="312.5" stroke="#222" stroke-width="1.2"/><line x1="417.65" y1="308.1" x2="420.35" y2="308.1" stroke="#000" stroke-width="1.3"/>
<line x1="425.35" y1="312.5" x2="425.35" y2="317.2" stroke="#222" stroke-width="1.2"/><line x1="424" y1="312.6" x2="426.7" y2="312.6" stroke="#000" stroke-width="1.3"/>
<rect x="438" y="319.9" width="4.9" height="58.1" fill="#000"/>
<rect x="444.9" y="315" width="5.5" height="63" fill="#9c9c9c"/>
<line x1="440.45" y1="315.2" x2="440.45" y2="319.9" stroke="#222" stroke-width="1.2"/><line x1="439.1" y1="315.3" x2="441.8" y2="315.3" stroke="#000" stroke-width="1.3"/>

<rect x="460" y="307.5" width="5" height="70.5" fill="#000"/>
<rect x="467" y="297.8" width="4.9" height="80.2" fill="#9c9c9c"/>

<line x1="469.45" y1="293.7" x2="469.45" y2="297.8" stroke="#222" stroke-width="1.2"/><line x1="468.1" y1="293.8" x2="470.8" y2="293.8" stroke="#000" stroke-width="1.3"/>
<rect x="482.2" y="288.1" width="4.9" height="89.9" fill="#000"/>
<rect x="489.1" y="290.9" width="4.9" height="87.1" fill="#9c9c9c"/>
<line x1="484.65" y1="284" x2="484.65" y2="288.1" stroke="#222" stroke-width="1.2"/><line x1="483.3" y1="284.1" x2="486" y2="284.1" stroke="#000" stroke-width="1.3"/>
<line x1="491.55" y1="287.3" x2="491.55" y2="290.9" stroke="#222" stroke-width="1.2"/><line x1="490.2" y1="287.4" x2="492.9" y2="287.4" stroke="#000" stroke-width="1.3"/>
<line x1="294.3" y1="267.8" x2="294.3" y2="378" stroke="#000" stroke-width="1.9"/>
<line x1="289.3" y1="378" x2="499.3" y2="378" stroke="#000" stroke-width="1.9"/>
<line x1="289.3" y1="378" x2="294.3" y2="378" stroke="#000" stroke-width="1.9"/>
<text x="287" y="381.85" class="tick" style="font-size:11.5px">0</text>
<line x1="289.3" y1="341.27" x2="294.3" y2="341.27" stroke="#000" stroke-width="1.9"/>
<text x="287" y="345.12" class="tick" style="font-size:11.5px">5</text>
<line x1="289.3" y1="304.53" x2="294.3" y2="304.53" stroke="#000" stroke-width="1.9"/>
<text x="287" y="308.39" class="tick" style="font-size:11.5px">10</text>
<line x1="289.3" y1="267.8" x2="294.3" y2="267.8" stroke="#000" stroke-width="1.9"/>
<text x="287" y="271.65" class="tick" style="font-size:11.5px">15</text>
<line x1="309.4" y1="378" x2="309.4" y2="383" stroke="#000" stroke-width="1.9"/>
<line x1="330.4" y1="378" x2="330.4" y2="383" stroke="#000" stroke-width="1.9"/>
<line x1="352.4" y1="378" x2="352.4" y2="383" stroke="#000" stroke-width="1.9"/>
<line x1="375.1" y1="378" x2="375.1" y2="383" stroke="#000" stroke-width="1.9"/>
<line x1="396.6" y1="378" x2="396.6" y2="383" stroke="#000" stroke-width="1.9"/>
<line x1="418.7" y1="378" x2="418.7" y2="383" stroke="#000" stroke-width="1.9"/>
<line x1="440.7" y1="378" x2="440.7" y2="383" stroke="#000" stroke-width="1.9"/>
<line x1="462.8" y1="378" x2="462.8" y2="383" stroke="#000" stroke-width="1.9"/>
<line x1="484.4" y1="378" x2="484.4" y2="383" stroke="#000" stroke-width="1.9"/>
<text transform="translate(312.4,393) rotate(-45)" class="xl" style="font-size:11px">Controls</text>
<text transform="translate(333.4,393) rotate(-45)" class="xl" style="font-size:11px">fidaxomicin</text>
<text transform="translate(355.4,393) rotate(-45)" class="xl" style="font-size:11px">Fresh onion extract</text>
<text transform="translate(378.1,393) rotate(-45)" class="xl" style="font-size:11px">Garlic clove powder</text>
<text transform="translate(399.6,393) rotate(-45)" class="xl" style="font-size:11px">LH (A)</text>
<text transform="translate(421.7,393) rotate(-45)" class="xl" style="font-size:11px">LH (B)</text>
<text transform="translate(443.7,393) rotate(-45)" class="xl" style="font-size:11px">LH (C)</text>
<text transform="translate(465.8,393) rotate(-45)" class="xl" style="font-size:11px"><tspan class="tr">trans</tspan>-Cinnamaldehyde</text>
<text transform="translate(487.4,393) rotate(-45)" class="xl" style="font-size:11px">Zingerone</text>
<polygon points="329.6,300.55 330.18,302.3 331.98,301.93 330.75,303.3 331.98,304.68 330.18,304.3 329.6,306.05 329.03,304.3 327.22,304.68 328.45,303.3 327.22,301.93 329.03,302.3" fill="#383838"/>
<polygon points="337,296.45 337.57,298.2 339.38,297.82 338.15,299.2 339.38,300.57 337.57,300.2 337,301.95 336.43,300.2 334.62,300.57 335.85,299.2 334.62,297.82 336.43,298.2" fill="#383838"/>
<polygon points="352.4,286.75 352.97,288.5 354.78,288.12 353.55,289.5 354.78,290.88 352.97,290.5 352.4,292.25 351.82,290.5 350.02,290.88 351.25,289.5 350.02,288.12 351.82,288.5" fill="#383838"/>
<polygon points="360.2,279.85 360.77,281.6 362.58,281.23 361.35,282.6 362.58,283.98 360.77,283.6 360.2,285.35 359.62,283.6 357.82,283.98 359.05,282.6 357.82,281.23 359.62,281.6" fill="#383838"/>
<polygon points="372.6,279.85 373.18,281.6 374.98,281.23 373.75,282.6 374.98,283.98 373.18,283.6 372.6,285.35 372.03,283.6 370.22,283.98 371.45,282.6 370.22,281.23 372.03,281.6" fill="#383838"/>
<polygon points="396.1,301.95 396.68,303.7 398.48,303.32 397.25,304.7 398.48,306.07 396.68,305.7 396.1,307.45 395.53,305.7 393.72,306.07 394.95,304.7 393.72,303.32 395.53,303.7" fill="#383838"/>
<polygon points="404.1,296.45 404.68,298.2 406.48,297.82 405.25,299.2 406.48,300.57 404.68,300.2 404.1,301.95 403.53,300.2 401.72,300.57 402.95,299.2 401.72,297.82 403.53,298.2" fill="#383838"/>
<polygon points="420.1,296.45 420.68,298.2 422.48,297.82 421.25,299.2 422.48,300.57 420.68,300.2 420.1,301.95 419.53,300.2 417.72,300.57 418.95,299.2 417.72,297.82 419.53,298.2" fill="#383838"/>
<polygon points="427.8,301.15 428.38,302.9 430.18,302.52 428.95,303.9 430.18,305.27 428.38,304.9 427.8,306.65 427.23,304.9 425.42,305.27 426.65,303.9 425.42,302.52 427.23,302.9" fill="#383838"/>
<polygon points="439.3,300.55 439.88,302.3 441.68,301.93 440.45,303.3 441.68,304.68 439.88,304.3 439.3,306.05 438.73,304.3 436.92,304.68 438.15,303.3 436.92,301.93 438.73,302.3" fill="#383838"/>
<polygon points="447.1,303.35 447.68,305.1 449.48,304.73 448.25,306.1 449.48,307.48 447.68,307.1 447.1,308.85 446.53,307.1 444.72,307.48 445.95,306.1 444.72,304.73 446.53,305.1" fill="#383838"/>
<polygon points="460.9,296.45 461.47,298.2 463.28,297.82 462.05,299.2 463.28,300.57 461.47,300.2 460.9,301.95 460.32,300.2 458.52,300.57 459.75,299.2 458.52,297.82 460.32,298.2" fill="#383838"/>
<polygon points="469.2,284.85 469.77,286.6 471.58,286.23 470.35,287.6 471.58,288.98 469.77,288.6 469.2,290.35 468.62,288.6 466.82,288.98 468.05,287.6 466.82,286.23 468.62,286.6" fill="#383838"/>
<rect x="577" y="291.3" width="30.4" height="12.6" fill="#000"/>
<rect x="578.3" y="297.4" width="26.3" height="1.1" fill="#bbb"/>
<rect x="577" y="317.4" width="30.6" height="10.2" fill="#d8d8d8"/>
<rect x="577" y="317.4" width="0.9" height="10.2" fill="#999"/><rect x="606.7" y="317.4" width="0.9" height="10.2" fill="#999"/>
<rect x="585.8000000000001" y="319.95000000000005" width="3.6" height="1.3" fill="#333"/>
<rect x="600.1" y="319.95000000000005" width="3.6" height="1.3" fill="#333"/>
<rect x="578.8000000000001" y="324.55" width="3.6" height="1.3" fill="#333"/>
<rect x="593.2" y="324.55" width="3.6" height="1.3" fill="#333"/>
<rect x="577" y="342.5" width="30.6" height="11.1" fill="#000"/>
<rect x="577" y="366.9" width="30.6" height="11.1" fill="#9c9c9c"/>
<text x="622.2" y="303.6" class="leg" textLength="34.2" lengthAdjust="spacingAndGlyphs">SDW</text>
<text x="619.9" y="328.7" class="leg" textLength="45" lengthAdjust="spacingAndGlyphs">DMSO</text>
<text x="620.5" y="354.2" class="leg" textLength="65.5" lengthAdjust="spacingAndGlyphs">0.5 &#215; MIC</text>
<text x="619.8" y="378.5" class="leg" textLength="73.2" lengthAdjust="spacingAndGlyphs">0.25 &#215; MIC</text>
</svg></body></html>
